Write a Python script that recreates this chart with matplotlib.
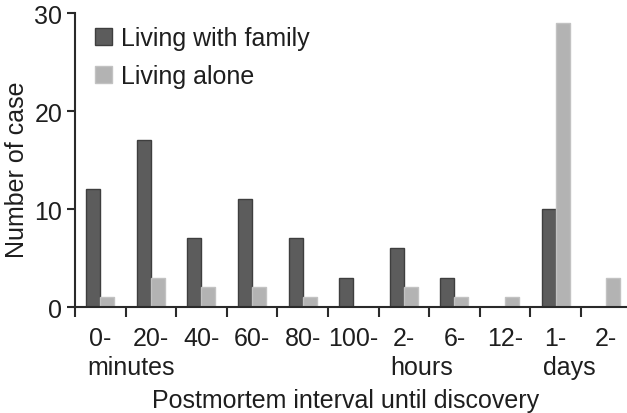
import numpy as np
import matplotlib
matplotlib.use("Agg")
import matplotlib.pyplot as plt
from matplotlib.patches import Patch

plt.rcParams['font.family'] = ['Liberation Sans', 'DejaVu Sans']

categories = ['0-', '20-', '40-', '60-', '80-', '100-', '2-', '6-', '12-', '1-', '2-']
family = [12, 17, 7, 11, 7, 3, 6, 3, 0, 10, 0]
alone = [1, 3, 2, 2, 1, 0, 2, 1, 1, 29, 3]
units = [(0, 'minutes'), (6, 'hours'), (9, 'days')]
series_names = ['Living with family', 'Living alone']

dark, dark_edge = '#5c5c5c', '#3e3e3e'
light, light_edge = '#b3b3b3', '#c2c2c2'
ink = '#1e1e1e'
fs = 18

fig = plt.figure(figsize=(6.27, 4.14), dpi=100)
ax = fig.add_axes([0.1196, 0.2560, 0.8804, 0.7101])

x = np.arange(len(categories))
w = 0.277
ax.bar(x - w / 2, family, w, color=dark, edgecolor=dark_edge, linewidth=1)
ax.bar(x + w / 2, alone, w, color=light, edgecolor=light_edge, linewidth=1)

ax.set_xlim(-0.5, 10.41)
ax.set_ylim(0, 30)
ax.set_yticks([0, 10, 20, 30])

for s in ['top', 'right']:
    ax.spines[s].set_visible(False)
for s in ['left', 'bottom']:
    ax.spines[s].set_linewidth(1.5)
    ax.spines[s].set_color('#2a2a2a')

ax.set_xticks(x)
ax.set_xticklabels(categories)
ax.set_xticks(np.arange(-0.5, len(categories) - 0.5), minor=True)
ax.tick_params(axis='x', which='major', length=0, pad=14, labelsize=fs, labelcolor=ink)
ax.tick_params(axis='x', which='minor', length=7.5, width=1.5, color='#2a2a2a', direction='out')
ax.tick_params(axis='y', length=6, width=1.5, color='#2a2a2a', pad=3, labelsize=fs, labelcolor=ink)

trans = ax.get_xaxis_transform()
for idx, word in units:
    ax.text(idx - 0.26, -0.228, word, transform=trans, ha='left', va='baseline',
            fontsize=fs, color=ink)

ax.text(0.49, -0.34, 'Postmortem interval until discovery', transform=ax.transAxes,
        ha='center', va='baseline', fontsize=fs, color=ink)
fig.text(0.027, 0.59, 'Number of case', rotation=90, ha='center', va='center',
         fontsize=fs, color=ink)

handles = [Patch(facecolor=dark, edgecolor=dark_edge), Patch(facecolor=light, edgecolor=light_edge)]
ax.legend(handles, series_names, loc='upper left', bbox_to_anchor=(0.036, 0.955),
          frameon=False, fontsize=fs, borderpad=0, borderaxespad=0,
          handlelength=0.68, handleheight=0.68, handletextpad=0.36, labelspacing=0.56,
          labelcolor=ink)

fig.savefig('out.png', dpi=100)
